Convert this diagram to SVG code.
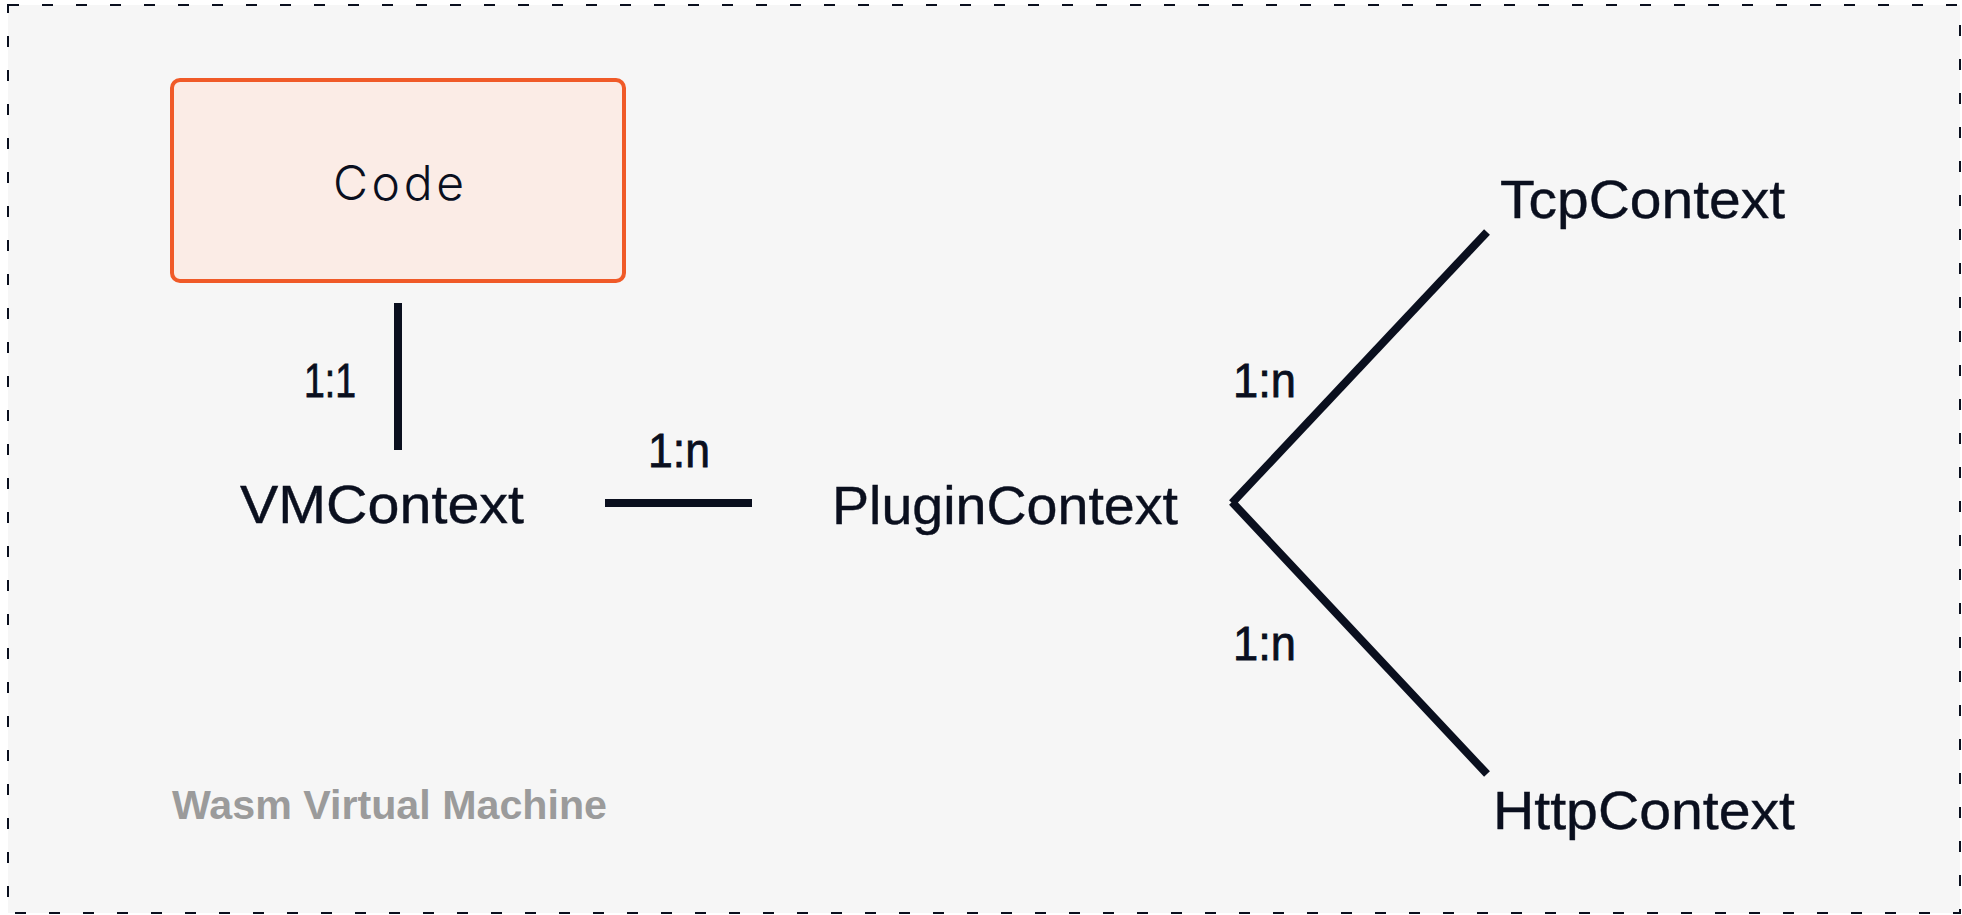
<svg xmlns="http://www.w3.org/2000/svg" width="1962" height="915" viewBox="0 0 1962 915">
<style>
.lbl{font-family:"Liberation Sans",Arial,sans-serif;fill:#0a0f1e;font-size:54px;stroke:#0a0f1e;stroke-width:0.4}
.rel{font-family:"Liberation Sans",Arial,sans-serif;fill:#0a0f1e;font-size:49px;stroke:#0a0f1e;stroke-width:0.8}
.conn line{stroke:#0a0f1e;stroke-width:8;fill:none}
</style>
<rect width="1962" height="915" fill="#ffffff"/>
<g id="vm">
<rect x="8" y="5" width="1952" height="908" fill="#f6f6f6" stroke="#0a0f1e" stroke-width="2" stroke-dasharray="11 23"/>
<text x="172" y="819" font-family="Liberation Sans,Arial,sans-serif" font-weight="bold" font-size="41" fill="#9b9b9b" textLength="435" lengthAdjust="spacingAndGlyphs">Wasm Virtual Machine</text>
</g>
<g id="code">
<rect x="172" y="80" width="452" height="201" rx="8" fill="#fbece6" stroke="#f05a28" stroke-width="4"/>
<text x="333" y="200" font-family="Inter,Liberation Sans,sans-serif" font-weight="300" font-size="48" fill="#0a0f1e" textLength="131" lengthAdjust="spacing">Code</text>
</g>
<g id="vmcontext"><text class="lbl" x="240" y="523" textLength="284" lengthAdjust="spacingAndGlyphs">VMContext</text></g>
<g id="plugincontext"><text class="lbl" x="832" y="524" textLength="346" lengthAdjust="spacingAndGlyphs">PluginContext</text></g>
<g id="tcpcontext"><text class="lbl" x="1500" y="218" textLength="285" lengthAdjust="spacingAndGlyphs">TcpContext</text></g>
<g id="httpcontext"><text class="lbl" x="1493" y="829" textLength="302" lengthAdjust="spacingAndGlyphs">HttpContext</text></g>
<g id="connectors" class="conn">
<line x1="398" y1="303" x2="398" y2="450"/>
<line x1="605" y1="503" x2="752" y2="503"/>
<line x1="1232" y1="503" x2="1487" y2="232"/>
<line x1="1232" y1="502" x2="1487" y2="774"/>
<text class="rel" x="304" y="397" textLength="52" lengthAdjust="spacingAndGlyphs">1:1</text>
<text class="rel" x="648" y="467" textLength="62" lengthAdjust="spacingAndGlyphs">1:n</text>
<text class="rel" x="1233" y="397" textLength="63" lengthAdjust="spacingAndGlyphs">1:n</text>
<text class="rel" x="1233" y="660" textLength="63" lengthAdjust="spacingAndGlyphs">1:n</text>
</g>
</svg>
